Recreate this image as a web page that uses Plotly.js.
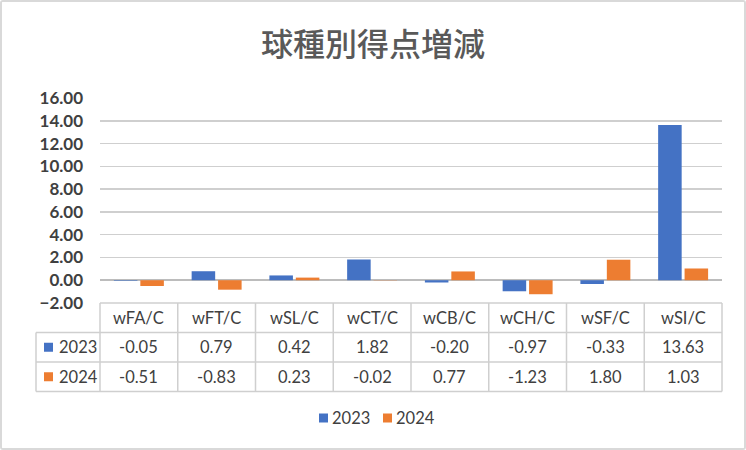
<!DOCTYPE html>
<html>
<head>
<meta charset="utf-8">
<script src="https://cdn.plot.ly/plotly-3.0.1.min.js"></script>
<style>
  html, body { margin: 0; padding: 0; background: #fff; }
  #frame {
    width: 746px; height: 450px; box-sizing: border-box;
    border: 2px solid #d9d9d9; border-radius: 3px; overflow: hidden;
  }
  #chart { width: 742px; height: 446px; }
</style>
</head>
<body>
<div id="frame"><div id="chart"></div></div>
<script>
// pitch-type run values per 100 pitches
const categories = ['wFA/C', 'wFT/C', 'wSL/C', 'wCT/C', 'wCB/C', 'wCH/C', 'wSF/C', 'wSI/C'];
const values2023 = [-0.05, 0.79, 0.42, 1.82, -0.20, -0.97, -0.33, 13.63];
const values2024 = [-0.51, -0.83, 0.23, -0.02, 0.77, -1.23, 1.80, 1.03];
const seriesNames = ['2023', '2024'];

const COLORS = ['#4472C4', '#ED7D31'];
const FONT = 'Lato, "Noto Sans", sans-serif';
const TEXT = '#404040';
const GRID = '#cfcfcf';

const W = 742, H = 446;
const M = { l: 98, r: 22, t: 96, b: 145 };
const plotH = H - M.t - M.b;
const plotW = W - M.l - M.r;

// pixel (from top/left of the chart div) -> paper coords
const py = (p) => (H - M.b - p) / plotH;
const px = (p) => (p - M.l) / plotW;

const tableTop = H - M.b;     // table starts at the bottom of the plot area
const rowH = 29.5;
const labelLeft = 34;
const SQ = 9;

const traces = [values2023, values2024].map((vals, i) => ({
  type: 'bar',
  name: seriesNames[i],
  x: categories,
  y: vals,
  marker: { color: COLORS[i] },
  showlegend: false,
  hoverinfo: 'x+y+name'
}));

const shapes = [];
const annotations = [];

const swatch = (left, centerY, color) => ({
  type: 'rect', xref: 'paper', yref: 'paper', line: { width: 0 },
  fillcolor: color,
  x0: px(left), x1: px(left + SQ),
  y0: py(centerY + SQ / 2), y1: py(centerY - SQ / 2)
});

const label = (x, xref, y, text, xanchor) => ({
  x, xref, y, yref: 'paper', xanchor: xanchor || 'center', yanchor: 'middle',
  text, showarrow: false, font: { family: FONT, size: 16.5, color: TEXT }
});

// table grid
const lineStyle = { color: GRID, width: 1.5 };
[0, 1, 2, 3].forEach((r) => {
  const y = py(tableTop + r * rowH);
  shapes.push({
    type: 'line', xref: 'paper', yref: 'paper',
    x0: r === 0 ? 0 : px(labelLeft), x1: 1, y0: y, y1: y, line: lineStyle
  });
});
for (let i = 0; i <= categories.length; i++) {
  shapes.push({
    type: 'line', xref: 'paper', yref: 'paper',
    x0: i / categories.length, x1: i / categories.length,
    y0: py(tableTop), y1: py(tableTop + 3 * rowH), line: lineStyle
  });
}
shapes.push({
  type: 'line', xref: 'paper', yref: 'paper',
  x0: px(labelLeft), x1: px(labelLeft),
  y0: py(tableTop + rowH), y1: py(tableTop + 3 * rowH), line: lineStyle
});

// header row
categories.forEach((c) => {
  annotations.push(label(c, 'x', py(tableTop + rowH / 2), c));
});

// data rows
[values2023, values2024].forEach((vals, r) => {
  const yPix = tableTop + rowH * (r + 1.5);
  shapes.push(swatch(labelLeft + 8, yPix, COLORS[r]));
  annotations.push(label(px(labelLeft + 21), 'paper', py(yPix), seriesNames[r], 'left'));
  vals.forEach((v, i) => {
    annotations.push(label(categories[i], 'x', py(yPix), v.toFixed(2)));
  });
});

// legend
const legendY = 416;
const legendLeft = [317, 381];
seriesNames.forEach((name, i) => {
  shapes.push(swatch(legendLeft[i], legendY, COLORS[i]));
  annotations.push(label(px(legendLeft[i] + 11), 'paper', py(legendY), name, 'left'));
});

const layout = {
  width: W,
  height: H,
  margin: M,
  paper_bgcolor: '#fff',
  plot_bgcolor: '#fff',
  font: { family: FONT, color: TEXT },
  title: {
    text: '球種別得点増減',
    font: { family: '"Noto Sans CJK JP", sans-serif', size: 32, color: '#595959', weight: 500 },
    x: 0.5, xref: 'container', xanchor: 'center',
    y: 1 - 43 / H, yref: 'container', yanchor: 'middle'
  },
  barmode: 'group',
  bargap: 0.32,
  bargroupgap: 0.11,
  showlegend: false,
  xaxis: {
    type: 'category',
    range: [-0.5, categories.length - 0.5],
    showticklabels: false,
    showgrid: false,
    zeroline: false,
    showline: false,
    fixedrange: true
  },
  yaxis: {
    range: [-2, 16],
    dtick: 2,
    tickformat: '.2f',
    gridcolor: GRID,
    gridwidth: 1.5,
    zeroline: true,
    zerolinecolor: '#bcbcbc',
    zerolinewidth: 1.5,
    showline: false,
    ticklabelstandoff: 16,
    tickfont: { family: FONT, size: 17, color: TEXT, weight: 'bold' },
    fixedrange: true
  },
  shapes,
  annotations
};

Plotly.newPlot('chart', traces, layout, { displayModeBar: false, staticPlot: true });
</script>
</body>
</html>
